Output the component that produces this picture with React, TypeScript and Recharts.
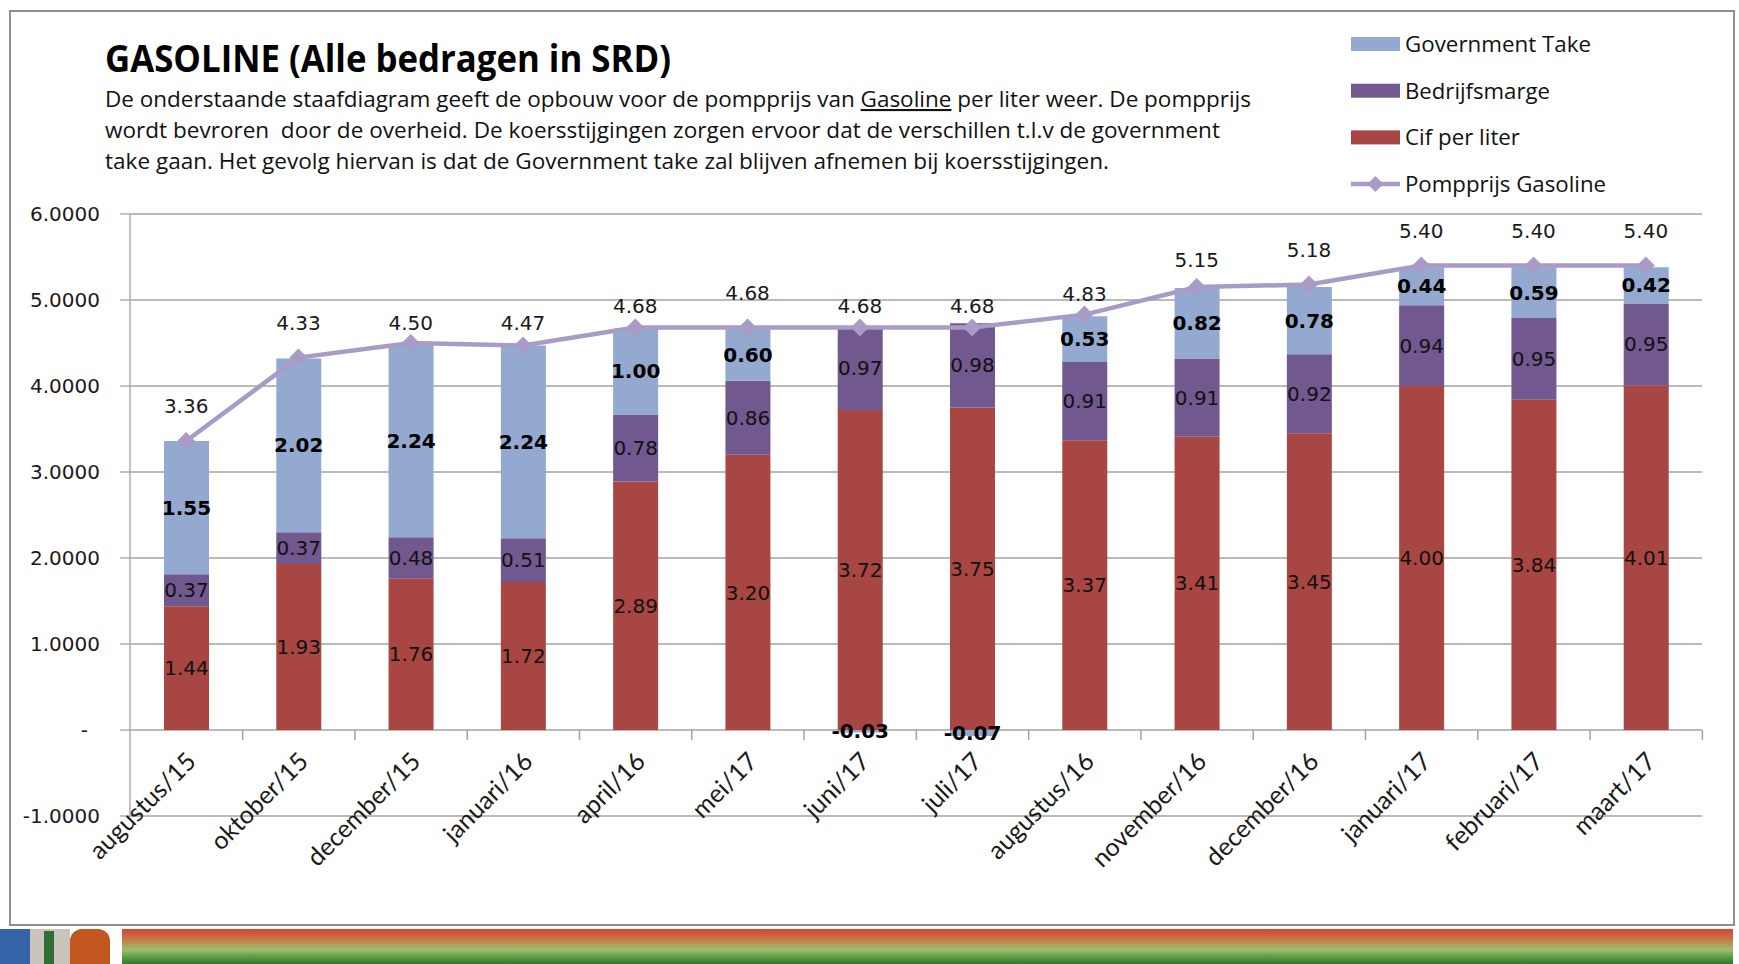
import React from 'react';
import { ComposedChart, Bar, Line, XAxis, YAxis, CartesianGrid, LabelList } from 'recharts';

const categories = ['augustus/15', 'oktober/15', 'december/15', 'januari/16', 'april/16', 'mei/17', 'juni/17', 'juli/17', 'augustus/16', 'november/16', 'december/16', 'januari/17', 'februari/17', 'maart/17'];
const cifPerLiter = [1.44, 1.93, 1.76, 1.72, 2.89, 3.20, 3.72, 3.75, 3.37, 3.41, 3.45, 4.00, 3.84, 4.01];
const bedrijfsmarge = [0.37, 0.37, 0.48, 0.51, 0.78, 0.86, 0.97, 0.98, 0.91, 0.91, 0.92, 0.94, 0.95, 0.95];
const governmentTake = [1.55, 2.02, 2.24, 2.24, 1.00, 0.60, -0.03, -0.07, 0.53, 0.82, 0.78, 0.44, 0.59, 0.42];
const pompprijs = [3.36, 4.33, 4.50, 4.47, 4.68, 4.68, 4.68, 4.68, 4.83, 5.15, 5.18, 5.40, 5.40, 5.40];
const yTicks = [-1, 0, 1, 2, 3, 4, 5, 6];

// style: vertical gap (px) between each pompprijs point and its label, as placed in the original
const pompLabelGap = [35, 35, 20, 23, 22, 35, 22, 22, 21, 27, 35, 35, 35, 35];

const legendItems = [
  { label: 'Government Take', color: '#94A9D0', kind: 'bar', len: 186 },
  { label: 'Bedrijfsmarge', color: '#71588F', kind: 'bar', len: 145 },
  { label: 'Cif per liter', color: '#A84643', kind: 'bar', len: 115 },
  { label: 'Pompprijs Gasoline', color: '#A99BC7', kind: 'line', len: 201 },
];

const data = categories.map((name, i) => ({
  name,
  cif: cifPerLiter[i],
  marge: bedrijfsmarge[i],
  gov: governmentTake[i],
  pomp: pompprijs[i],
}));

const W = 1739;
const H = 964;
const PLOT_LEFT = 130;
const PLOT_RIGHT = 1702;
const PLOT_TOP = 214;
const PLOT_BOTTOM = 816;
const Y_AXIS_W = 110;
const CAT_W = (PLOT_RIGHT - PLOT_LEFT) / categories.length;

const AXIS_FONT = "'DejaVu Sans', Verdana, sans-serif";
const TEXT_FONT = "'Open Sans', 'Noto Sans', sans-serif";
const CAT_FONT = "Lato, 'Open Sans', sans-serif";
const GRID = '#A3A3A3';
const LINE_COLOR = '#A99BC7';

const fmt2 = (v: any) => Number(v).toFixed(2);

const YTick = (props: any) => {
  const { x, y, payload } = props;
  const v = payload.value;
  const label = v === 0 ? '-' : v.toFixed(4);
  return (
    <text x={v === 0 ? x - 12 : x} y={y} textAnchor="end" dominantBaseline="central" fontSize={20} fontFamily={AXIS_FONT} fill="#1a1a1a">
      {label}
    </text>
  );
};

const CategoryLabel = (props: any) => {
  const vb = props.viewBox || {};
  const x = props.x ?? vb.x;
  const y = props.y ?? vb.y;
  const width = props.width ?? vb.width;
  const height = props.height ?? vb.height;
  if (x == null) return null;
  const cx = x + width / 2;
  const zy = y + height;
  const ax = cx + 11;
  const ay = zy + 33;
  return (
    <g>
      <line x1={cx + CAT_W / 2} x2={cx + CAT_W / 2} y1={zy} y2={zy + 10} stroke={GRID} strokeWidth={1.5} />
      <text x={ax} y={ay} transform={`rotate(-45 ${ax} ${ay})`} textAnchor="end" fontSize={25} fontFamily={CAT_FONT} fill="#1a1a1a">
        {props.value}
      </text>
    </g>
  );
};

const PompLabel = (props: any) => {
  const vb = props.viewBox || {};
  const x = props.x ?? vb.x;
  const y = props.y ?? vb.y;
  if (x == null) return null;
  const gap = pompLabelGap[props.index] ?? 35;
  return (
    <text x={x} y={y - gap} textAnchor="middle" dominantBaseline="central" fontSize={20} fontFamily={AXIS_FONT} fill="#1a1a1a">
      {fmt2(props.value)}
    </text>
  );
};

const Diamond = (props: any) => {
  const { cx, cy } = props;
  if (cx == null || cy == null) return null;
  const r = 9;
  return <path d={`M${cx},${cy - r}L${cx + r},${cy}L${cx},${cy + r}L${cx - r},${cy}Z`} fill={LINE_COLOR} />;
};

const descLines = [
  { parts: [
    { t: 'De onderstaande staafdiagram geeft de opbouw voor de pompprijs van ', u: false },
    { t: 'Gasoline', u: true },
    { t: ' per liter weer. De pompprijs', u: false },
  ], len: 1146, y: 107 },
  { parts: [{ t: 'wordt bevroren  door de overheid. De koersstijgingen zorgen ervoor dat de verschillen t.l.v de government', u: false }], len: 1115, y: 138 },
  { parts: [{ t: 'take gaan. Het gevolg hiervan is dat de Government take zal blijven afnemen bij koersstijgingen.', u: false }], len: 1004, y: 169 },
];

export default function App() {
  return (
    <div style={{ position: 'absolute', left: 0, top: 0, width: W, height: H, background: '#fff', overflow: 'hidden' }}>
      {/* slide frame */}
      <div style={{ position: 'absolute', left: 9, top: 10, width: 1726, height: 916, border: '2px solid #8E8E8E', boxSizing: 'border-box' }} />
      {/* bottom banner */}
      <div style={{ position: 'absolute', left: 122, top: 929, width: 1611, height: 35, background: 'linear-gradient(to bottom, #D9452C 0%, #C07A4C 30%, #9FBE6F 60%, #5C9A45 80%, #2F7A2B 100%)' }} />
      <div style={{ position: 'absolute', left: 0, top: 929, width: 30, height: 35, background: '#3563A8' }} />
      <div style={{ position: 'absolute', left: 30, top: 929, width: 40, height: 35, background: '#C9C3BC' }} />
      <div style={{ position: 'absolute', left: 44, top: 931, width: 10, height: 33, background: '#2E6E34' }} />
      <div style={{ position: 'absolute', left: 70, top: 929, width: 40, height: 35, background: '#C2571F', borderRadius: '12px 12px 0 0' }} />

      <div style={{ position: 'absolute', left: 0, top: 0 }}>
        <ComposedChart
          width={W}
          height={H}
          data={data}
          stackOffset="sign"
          margin={{ top: PLOT_TOP, right: W - PLOT_RIGHT, bottom: H - PLOT_BOTTOM, left: PLOT_LEFT - Y_AXIS_W }}
          barSize={45}
        >
          <CartesianGrid vertical={false} stroke={GRID} strokeWidth={1.3} />
          <XAxis dataKey="name" hide />
          <YAxis
            type="number"
            domain={[-1, 6]}
            ticks={yTicks}
            interval={0}
            width={Y_AXIS_W}
            tickSize={10}
            tickMargin={20}
            axisLine={{ stroke: GRID, strokeWidth: 1.3 }}
            tickLine={{ stroke: GRID, strokeWidth: 1.3 }}
            tick={<YTick />}
          />
          <Bar dataKey="cif" stackId="a" fill="#A84643" isAnimationActive={false}>
            <LabelList dataKey="cif" position="center" formatter={fmt2} fill="#111" fontSize={20} fontFamily={AXIS_FONT} />
            <LabelList dataKey="name" content={<CategoryLabel />} />
          </Bar>
          <Bar dataKey="marge" stackId="a" fill="#71588F" isAnimationActive={false}>
            <LabelList dataKey="marge" position="center" formatter={fmt2} fill="#111" fontSize={20} fontFamily={AXIS_FONT} />
          </Bar>
          <Bar dataKey="gov" stackId="a" fill="#94A9D0" isAnimationActive={false}>
            <LabelList dataKey="gov" position="center" formatter={fmt2} fill="#000" fontSize={20} fontWeight="bold" fontFamily={AXIS_FONT} />
          </Bar>
          <Line
            dataKey="pomp"
            stroke={LINE_COLOR}
            strokeWidth={4.5}
            dot={<Diamond />}
            activeDot={false}
            isAnimationActive={false}
          >
            <LabelList dataKey="pomp" content={<PompLabel />} />
          </Line>
        </ComposedChart>
      </div>

      {/* title, description, legend */}
      <svg width={W} height={230} style={{ position: 'absolute', left: 0, top: 0, pointerEvents: 'none' }}>
        <text x={105} y={72} fontSize={38} fontWeight="bold" fontFamily={TEXT_FONT} fill="#000" textLength={566} lengthAdjust="spacingAndGlyphs">
          GASOLINE (Alle bedragen in SRD)
        </text>
        {descLines.map((ln, i) => (
          <text key={i} x={105} y={ln.y} fontSize={21} fontFamily={TEXT_FONT} fill="#111" textLength={ln.len} lengthAdjust="spacingAndGlyphs" style={{ whiteSpace: 'pre' }}>
            {ln.parts.map((p, j) => (
              <tspan key={j} textDecoration={p.u ? 'underline' : undefined} style={p.u ? { textDecoration: 'underline' } : undefined}>{p.t}</tspan>
            ))}
          </text>
        ))}
        {legendItems.map((it, i) => {
          const cy = 44 + i * 46.7;
          return (
            <g key={it.label}>
              {it.kind === 'bar' ? (
                <rect x={1351} y={cy - 7} width={49} height={14} fill={it.color} />
              ) : (
                <g>
                  <line x1={1351} x2={1400} y1={cy} y2={cy} stroke={it.color} strokeWidth={4.5} />
                  <path d={`M1375.5,${cy - 8}L1383.5,${cy}L1375.5,${cy + 8}L1367.5,${cy}Z`} fill={it.color} />
                </g>
              )}
              <text x={1405} y={cy + 8} fontSize={22} fontFamily={TEXT_FONT} fill="#111" textLength={it.len} lengthAdjust="spacingAndGlyphs">
                {it.label}
              </text>
            </g>
          );
        })}
      </svg>
    </div>
  );
}
